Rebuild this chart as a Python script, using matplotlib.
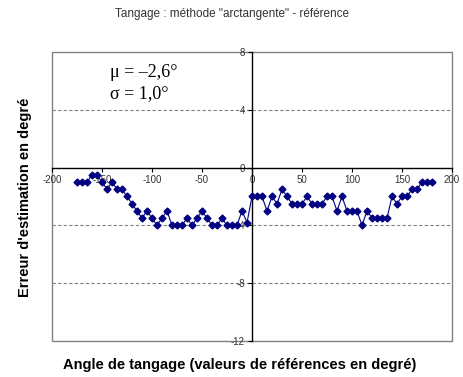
import numpy as np
import matplotlib
matplotlib.use("Agg")
import matplotlib.pyplot as plt
from matplotlib.patches import Rectangle

plt.rcParams['font.family'] = ['Liberation Sans', 'DejaVu Sans']
plt.rcParams['axes.unicode_minus'] = False

#----------------
#DONNEES
#----------------
angles_neg = [-175, -170, -165, -160, -155, -150, -145, -140, -135, -130,
              -125, -120, -115, -110, -105, -100, -95, -90, -85, -80,
              -75, -70, -65, -60, -55, -50, -45, -40, -35, -30,
              -25, -20, -15, -10, -5]
erreur_neg = [-1.0, -1.0, -1.0, -0.5, -0.5, -1.0, -1.5, -1.0, -1.5, -1.5,
              -2.0, -2.5, -3.0, -3.5, -3.0, -3.5, -4.0, -3.5, -3.0, -4.0,
              -4.0, -4.0, -3.5, -4.0, -3.5, -3.0, -3.5, -4.0, -4.0, -3.5,
              -4.0, -4.0, -4.0, -3.0, -3.8]
angles_pos = [0, 5, 10, 15, 20, 25, 30, 35, 40, 45,
              50, 55, 60, 65, 70, 75, 80, 85, 90, 95,
              100, 105, 110, 115, 120, 125, 130, 135, 140, 145,
              150, 155, 160, 165, 170, 175, 180]
erreur_pos = [-2.0, -2.0, -2.0, -3.0, -2.0, -2.5, -1.5, -2.0, -2.5, -2.5,
              -2.5, -2.0, -2.5, -2.5, -2.5, -2.0, -2.0, -3.0, -2.0, -3.0,
              -3.0, -3.0, -4.0, -3.0, -3.5, -3.5, -3.5, -3.5, -2.0, -2.5,
              -2.0, -2.0, -1.5, -1.5, -1.0, -1.0, -1.0]
xticks = [-200, -150, -100, -50, 0, 50, 100, 150, 200]
yticks = [-12, -8, -4, 0, 4, 8]

angles = angles_neg + angles_pos
erreur = erreur_neg + erreur_pos

#----------------
#FIGURE
#----------------
fig = plt.figure(figsize=(4.63, 3.77), dpi=100)
ax = fig.add_axes([52/463, 36/377, 400/463, 289/377])

ax.plot(angles, erreur, color='#000080', lw=0.8, marker='D', ms=3.5,
        mec='#000080', mfc='#000080', zorder=3)

ax.set_xlim(-200, 200)
ax.set_ylim(-12, 8)

# axes croises en (0,0)
ax.spines['left'].set_position(('data', 0))
ax.spines['bottom'].set_position(('data', 0))
ax.spines['right'].set_visible(False)
ax.spines['top'].set_visible(False)
ax.spines['left'].set_linewidth(1.0)
ax.spines['bottom'].set_linewidth(1.0)
ax.add_patch(Rectangle((0, 0), 1, 1, transform=ax.transAxes, fill=False,
                       ec='#808080', lw=1.0, zorder=1, clip_on=False))

ax.set_xticks(xticks)
ax.set_yticks(yticks)
ax.tick_params(axis='both', labelsize=7, colors='black', labelcolor='#333333',
               length=3, width=0.8, direction='out', pad=2)

for y in [4, -4, -8]:
    ax.axhline(y, color='#808080', lw=0.8, ls=(0, (3, 2)), zorder=0)

serif = ['Liberation Serif', 'DejaVu Serif']
ax.text(-142, 6.6, "\u03bc = \u20132,6\u00b0", fontsize=13, va='center', family=serif)
ax.text(-142, 5.1, "\u03c3 = 1,0\u00b0", fontsize=13, va='center', family=serif)

fig.text(232/463, 1 - 14/377, 'Tangage : méthode "arctangente" - référence',
         ha='center', va='center', fontsize=8.5, color='#333333')
fig.text(25/463, 1 - 197/377, "Erreur d'estimation en degré", rotation=90,
         ha='center', va='center', fontsize=10.5, fontweight='bold')
fig.text(240/463, 1 - 365/377, "Angle de tangage (valeurs de références en degré)",
         ha='center', va='center', fontsize=10.5, fontweight='bold')

fig.savefig('out.png', dpi=100)
